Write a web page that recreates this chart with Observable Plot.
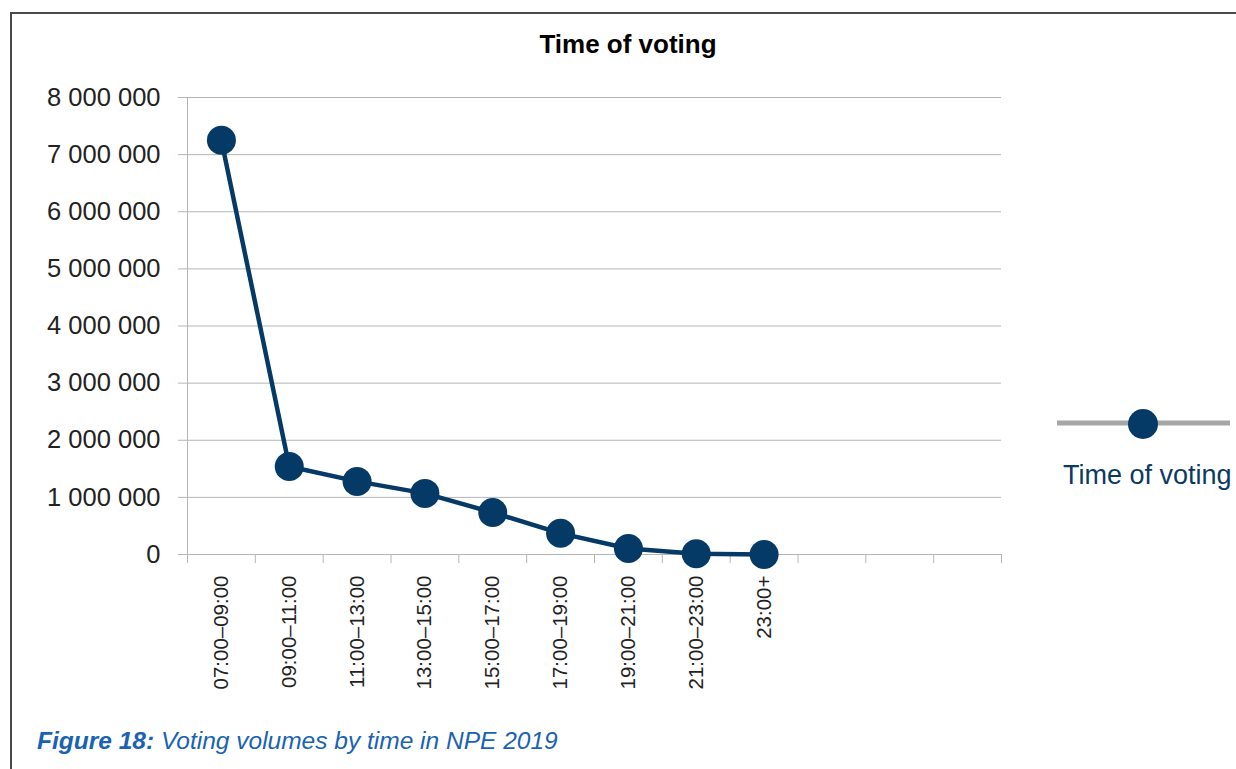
<!DOCTYPE html>
<html><head><meta charset="utf-8">
<script src="https://cdn.jsdelivr.net/npm/d3@7"></script>
<script src="https://cdn.jsdelivr.net/npm/@observablehq/plot@0.6"></script>
<style>
body{margin:0;background:#fff;font-family:"Liberation Sans",Arial,Helvetica,sans-serif;}
#page{position:relative;width:1236px;height:769px;overflow:hidden;background:#fff;}
#frame{position:absolute;left:10px;top:12px;width:1300px;height:900px;border-left:2px solid #4a4a4a;border-top:2px solid #4a4a4a;}
#chart{position:absolute;left:0;top:0;}
#title{position:absolute;left:628px;top:31px;transform:translateX(-50%);font-weight:bold;font-size:26px;line-height:1;color:#000;white-space:nowrap;}
#legend{position:absolute;left:1050px;top:400px;}
#legtext{position:absolute;left:1063px;top:462px;font-size:27px;line-height:1;color:#0b3a63;white-space:nowrap;}
#caption{position:absolute;left:37px;top:729px;font-size:24.5px;line-height:1;color:#1a62b3;font-style:italic;white-space:nowrap;}
#caption b{font-weight:bold;}
</style></head>
<body>
<div id="page">
  <div id="frame"></div>
  <div id="chart"></div>
  <div id="title">Time of voting</div>
  <svg id="legend" width="186" height="50">
    <line x1="7" y1="23" x2="180" y2="23" stroke="#a6a6a6" stroke-width="5"/>
    <circle cx="93" cy="24" r="15" fill="#053a66"/>
  </svg>
  <div id="legtext">Time of voting</div>
  <div id="caption"><b>Figure 18:</b> Voting volumes by time in NPE 2019</div>
</div>
<script>
const categories = ["07:00–09:00","09:00–11:00","11:00–13:00","13:00–15:00","15:00–17:00","17:00–19:00","19:00–21:00","21:00–23:00","23:00+"];
const votes = [7250000, 1540000, 1280000, 1070000, 735000, 370000, 105000, 12000, 0];
const emptySlots = 3;
const yTicks = [0,1000000,2000000,3000000,4000000,5000000,6000000,7000000,8000000];

const slots = categories.length + emptySlots;
const data = categories.map((c, i) => ({pos: i + 0.5, label: c, value: votes[i]}));
const fmt = d => d3.format(",")(d).replace(/,/g, " ");
const grid = "#b5b5b5";
const navy = "#053a66";

const chart = Plot.plot({
  width: 1236,
  height: 769,
  marginTop: 97,
  marginBottom: 215,
  marginLeft: 187,
  marginRight: 235,
  style: {background: "transparent", fontFamily: "'Liberation Sans', Arial, sans-serif", overflow: "visible"},
  x: {type: "linear", domain: [0, slots]},
  y: {domain: [0, 8000000]},
  marks: [
    Plot.gridY(yTicks, {stroke: grid, strokeOpacity: 1}),
    Plot.ruleX([0], {stroke: grid, strokeWidth: 1}),
    Plot.axisY(yTicks, {tickSize: 9, tickPadding: 18, tickFormat: fmt, fontSize: 25.5, stroke: grid, fill: "#222", label: null}),
    Plot.axisX(d3.range(slots + 1), {tickSize: 9, tickFormat: () => "", stroke: grid, label: null}),
    Plot.axisX(data.map(d => d.pos), {tickSize: 0, tickRotate: -90, tickPadding: 21, tickFormat: p => categories[Math.floor(p)], fontSize: 20.5, fill: "#222", label: null}),
    Plot.line(data, {x: "pos", y: "value", stroke: navy, strokeWidth: 4.5}),
    Plot.dot(data, {x: "pos", y: "value", r: 14.5, fill: navy, stroke: "none"})
  ]
});
document.getElementById("chart").appendChild(chart);
</script>
</body></html>
